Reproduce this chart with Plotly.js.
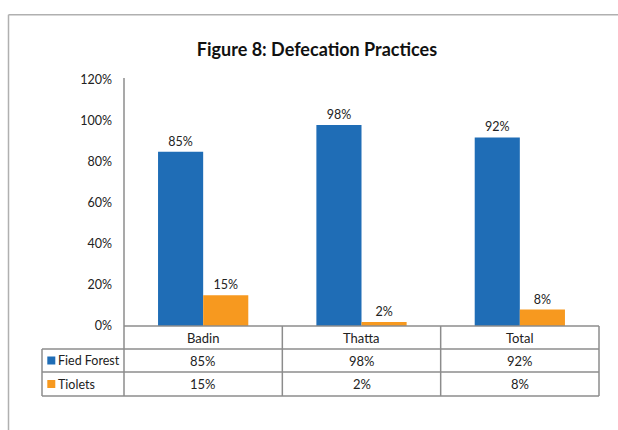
<!DOCTYPE html>
<html><head><meta charset="utf-8">
<script src="https://cdn.plot.ly/plotly-3.0.1.min.js"></script>
<style>body{margin:0;background:#fff}#c{width:618px;height:430px}</style>
</head><body><div id="c"></div>
<script>
const categories = ["Badin", "Thatta", "Total"];
const seriesNames = ["Fied Forest", "Tiolets"];
const fiedForest = [0.85, 0.98, 0.92];
const tiolets = [0.15, 0.02, 0.08];
const colors = ["#1f6db6", "#f7991f"];

const W = 618, H = 430, L = 124, R = 19, T = 80, B = 104;
const pw = W - L - R, ph = H - T - B;
const px = x => (x - L) / pw;           // pixel -> paper x
const py = y => (H - B - y) / ph;        // pixel -> paper y
const font = "Lato, 'Open Sans', sans-serif";
const grey = "#8c8c8c";

const series = [fiedForest, tiolets];
const traces = series.map((vals, i) => ({
  type: "bar", x: categories, y: vals, name: seriesNames[i],
  marker: {color: colors[i]},
  text: vals.map(v => Math.round(v * 100) + "%"),
  textposition: "outside", cliponaxis: false,
  textfont: {family: font, size: 12.5, color: "#222"},
  hoverinfo: "none"
}));

const rowY = [326, 349, 372, 396];
const shapes = [];
const ann = [];
const line = (x0, y0, x1, y1, c) => shapes.push({type:"line", xref:"paper", yref:"paper", x0:px(x0), x1:px(x1), y0:py(y0), y1:py(y1), line:{color:c || grey, width:1.5}});
// horizontal table lines
line(L, rowY[0], W - R, rowY[0]);
for (let k = 1; k < rowY.length; k++) line(42, rowY[k], W - R, rowY[k]);
// vertical table lines
line(42, rowY[1], 42, rowY[3]);
line(L, 78, L, rowY[3]);
for (let c = 0; c < categories.length; c++) {
  const xx = L + pw * (c + 1) / categories.length;
  line(xx, rowY[0], xx, rowY[3]);
}
// outer border
line(8.5, 14.7, 8.5, 440, "#b0b0b0");
line(8.5, 14.7, 630, 14.7, "#b0b0b0");

const cellFont = {family: font, size: 13, color: "#222"};
const keyFont = {family: font, size: 12.5, color: "#222"};
// header + data cells
categories.forEach((cat, c) => {
  const xc = (c + 0.5) / categories.length;
  ann.push({xref:"paper", yref:"paper", x:xc, y:py((rowY[0]+rowY[1])/2), xanchor:"center", yanchor:"middle", text:cat, showarrow:false, font:cellFont});
  series.forEach((vals, i) => {
    ann.push({xref:"paper", yref:"paper", x:xc, y:py((rowY[i+1]+rowY[i+2])/2), xanchor:"center", yanchor:"middle", text:Math.round(vals[c]*100)+"%", showarrow:false, font:cellFont});
  });
});
// legend keys + names
seriesNames.forEach((nm, i) => {
  const yc = (rowY[i+1] + rowY[i+2]) / 2;
  shapes.push({type:"rect", xref:"paper", yref:"paper", x0:px(47.3), x1:px(55.3), y0:py(yc-4), y1:py(yc+4), fillcolor:colors[i], line:{width:0}});
  ann.push({xref:"paper", yref:"paper", x:px(56), y:py(yc), xanchor:"left", yanchor:"middle", text:nm, showarrow:false, font:keyFont});
});

const layout = {
  width: W, height: H,
  margin: {l: L, r: R, t: T, b: B, pad: 0},
  paper_bgcolor: "#fff", plot_bgcolor: "#fff",
  title: {text: "<b>Figure 8: Defecation Practices</b>", xref: "container", yref: "container", x: 317 / W, xanchor: "center", y: 1 - 50 / H, yanchor: "middle", font: {family: font, size: 18, color: "#111"}},
  showlegend: false,
  barmode: "group", bargap: 0.43, bargroupgap: 0,
  xaxis: {showticklabels: false, showline: false, ticks: "", showgrid: false, zeroline: false, fixedrange: true},
  yaxis: {range: [0, 1.2], dtick: 0.2, tickformat: ".0%", showgrid: false, zeroline: false, showline: false, ticks: "",
          tickfont: {family: font, size: 12.5, color: "#222"}, ticklabelstandoff: 11},
  shapes: shapes, annotations: ann
};
Plotly.newPlot("c", traces, layout, {staticPlot: true, displayModeBar: false});
</script></body></html>
